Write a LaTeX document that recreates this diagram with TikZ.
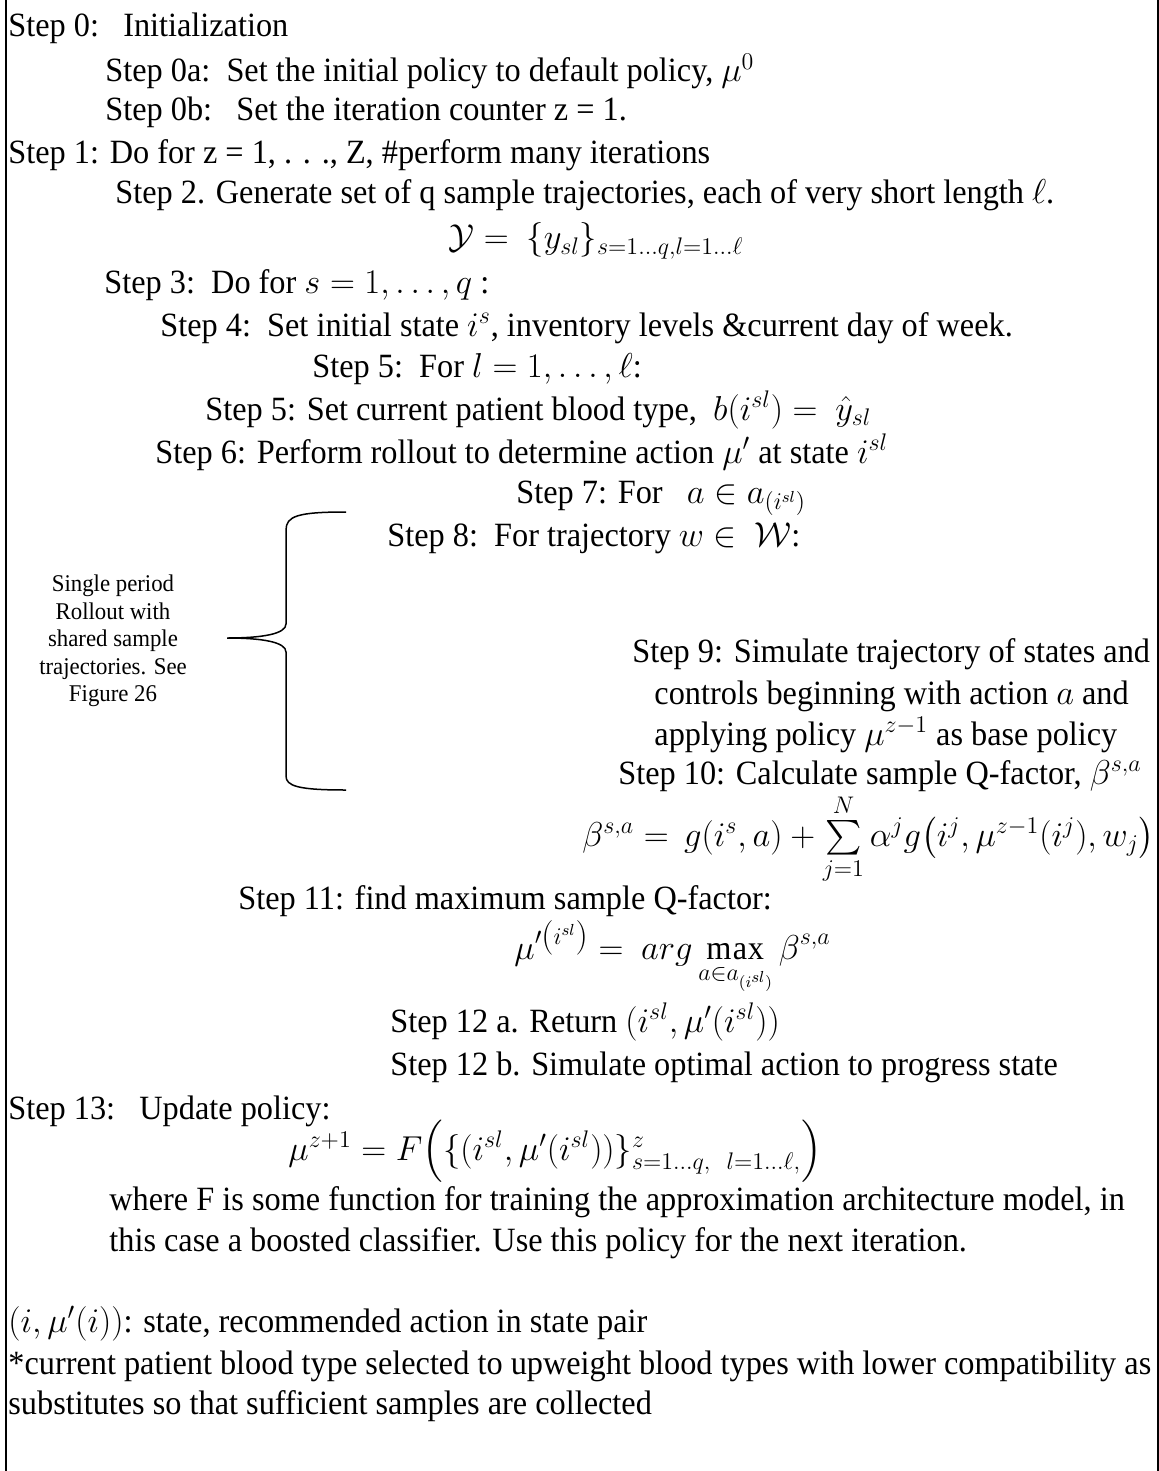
\documentclass[tikz,border=0pt]{standalone}
\usepackage{fontspec}
\setmainfont{Liberation Serif}[FakeStretch=0.95]
\usepackage{amsmath}

\begin{document}
\begin{tikzpicture}[x=0.5pt,y=-0.5pt,
  txt/.style={anchor=base west,inner sep=0pt,font=\fontsize{17}{20}\selectfont},
  note/.style={align=center,inner sep=0pt,font=\fontsize{12}{13.75}\selectfont},
  frameline/.style={line width=1pt},
  bracket/.style={line width=0.75pt}]%
\useasboundingbox (0,0) rectangle (1159,1471);%
\draw[frameline] (6,0) -- (6,1471);%
\draw[frameline] (1157.5,0) -- (1157.5,1471);%
% outer loop
\node[txt] (s0) at (8,37) {Step 0:~~~Initialization};%
\node[txt] (s0a) at (105,82) {Step 0a:~~Set the initial policy to default policy, $\mu^0$};%
\node[txt] (s0b) at (105,121) {Step 0b:~~~Set the iteration counter z = 1.};%
\node[txt] (s1) at (8,164) {Step 1: Do for z = 1, . . ., Z, \#perform many iterations};%
\node[txt] (s2) at (115,204) {Step 2. Generate set of q sample trajectories, each of very short length $\ell$.};%
\node[txt] (ysl) at (448,249) {$\mathcal{Y} = \ \{y_{sl}\}_{s=1\ldots q,l=1\ldots\ell}$};%
\node[txt] (s3) at (104,293) {Step 3:~~Do for $s = 1, \ldots, q$ :};%
\node[txt] (s4) at (160,336) {Step 4:~~Set initial state $i^s$, inventory levels \&current day of week.};%
\node[txt] (s5) at (312,377) {Step 5:~~For $l = 1, \ldots, \ell$:};%
\node[txt] (s5b) at (205,420) {Step 5: Set current patient blood type,~~$b(i^{sl}) = \ \hat{y}_{sl}$};%
\node[txt] (s6) at (155,463) {Step 6: Perform rollout to determine action $\mu'$ at state $i^{sl}$};%
% rollout part
\node[txt] (s7) at (516,503) {Step 7: For~~~$a \in a_{(i^{sl})}$};%
\node[txt] (s8) at (387,546) {Step 8:~~For trajectory $w \in \ \mathcal{W}$:};%
\node[txt] (s9) at (632,662) {Step 9: Simulate trajectory of states and};%
\node[txt] (s9b) at (654,704) {controls beginning with action $a$ and};%
\node[txt] (s9c) at (654,745) {applying policy $\mu^{z-1}$ as base policy};%
\node[txt] (s10) at (618,784) {Step 10: Calculate sample Q-factor, $\beta^{s,a}$};%
\node[txt] (qfac) at (582,846) {$\beta^{s,a} = \, g(i^s,a) + \sum\limits_{j=1}^{N} \alpha^j g\bigl(i^j,\mu^{z-1}(i^j),w_j\bigr)$};%
\node[txt] (s11) at (238,909) {Step 11: find maximum sample Q-factor:};%
\node[txt] (argmax) at (514,959) {$\displaystyle \mu'^{\left(i^{sl}\right)} = \ arg \max_{a\in a_{(i^{sl})}} \beta^{s,a}$};%
\node[txt] (s12a) at (390,1032) {Step 12 a. Return $(i^{sl},\mu'(i^{sl}))$};%
\node[txt] (s12b) at (390,1075) {Step 12 b. Simulate optimal action to progress state};%
% policy update
\node[txt] (s13) at (8,1119) {Step 13:~~~Update policy:};%
\node[txt] (upd) at (288,1160) {$\mu^{z+1} = F\Bigl(\{(i^{sl},\mu'(i^{sl}))\}^{z}_{s=1\ldots q,\ \ l=1\ldots\ell,}\Bigr)$};%
\node[txt] (wf) at (109,1210) {where F is some function for training the approximation architecture model, in};%
\node[txt] (wf2) at (109,1251) {this case a boosted classifier. Use this policy for the next iteration.};%
% footnotes
\node[txt] (pair) at (8,1332) {$(i,\mu'(i))$: state, recommended action in state pair};%
\node[txt] (star) at (8,1374) {*current patient blood type selected to upweight blood types with lower compatibility as};%
\node[txt] (star2) at (8,1414) {substitutes so that sufficient samples are collected};%
% brace with side note
\coordinate (brtop) at (346,512);%
\coordinate (brtip) at (227,638);%
\coordinate (brbot) at (346,790);%
\draw[bracket] (brtop) .. controls (298,512) and (286,516) .. (286,530) -- (286,624) .. controls (286,634) and (262,638) .. (brtip) .. controls (262,638) and (286,642) .. (286,652) -- (286,776) .. controls (286,786) and (298,790) .. (brbot);%
\node[note] (side) at (113,641) {Single period\\Rollout with\\shared sample\\trajectories. See\\Figure 26};%
\end{tikzpicture}
\end{document}
